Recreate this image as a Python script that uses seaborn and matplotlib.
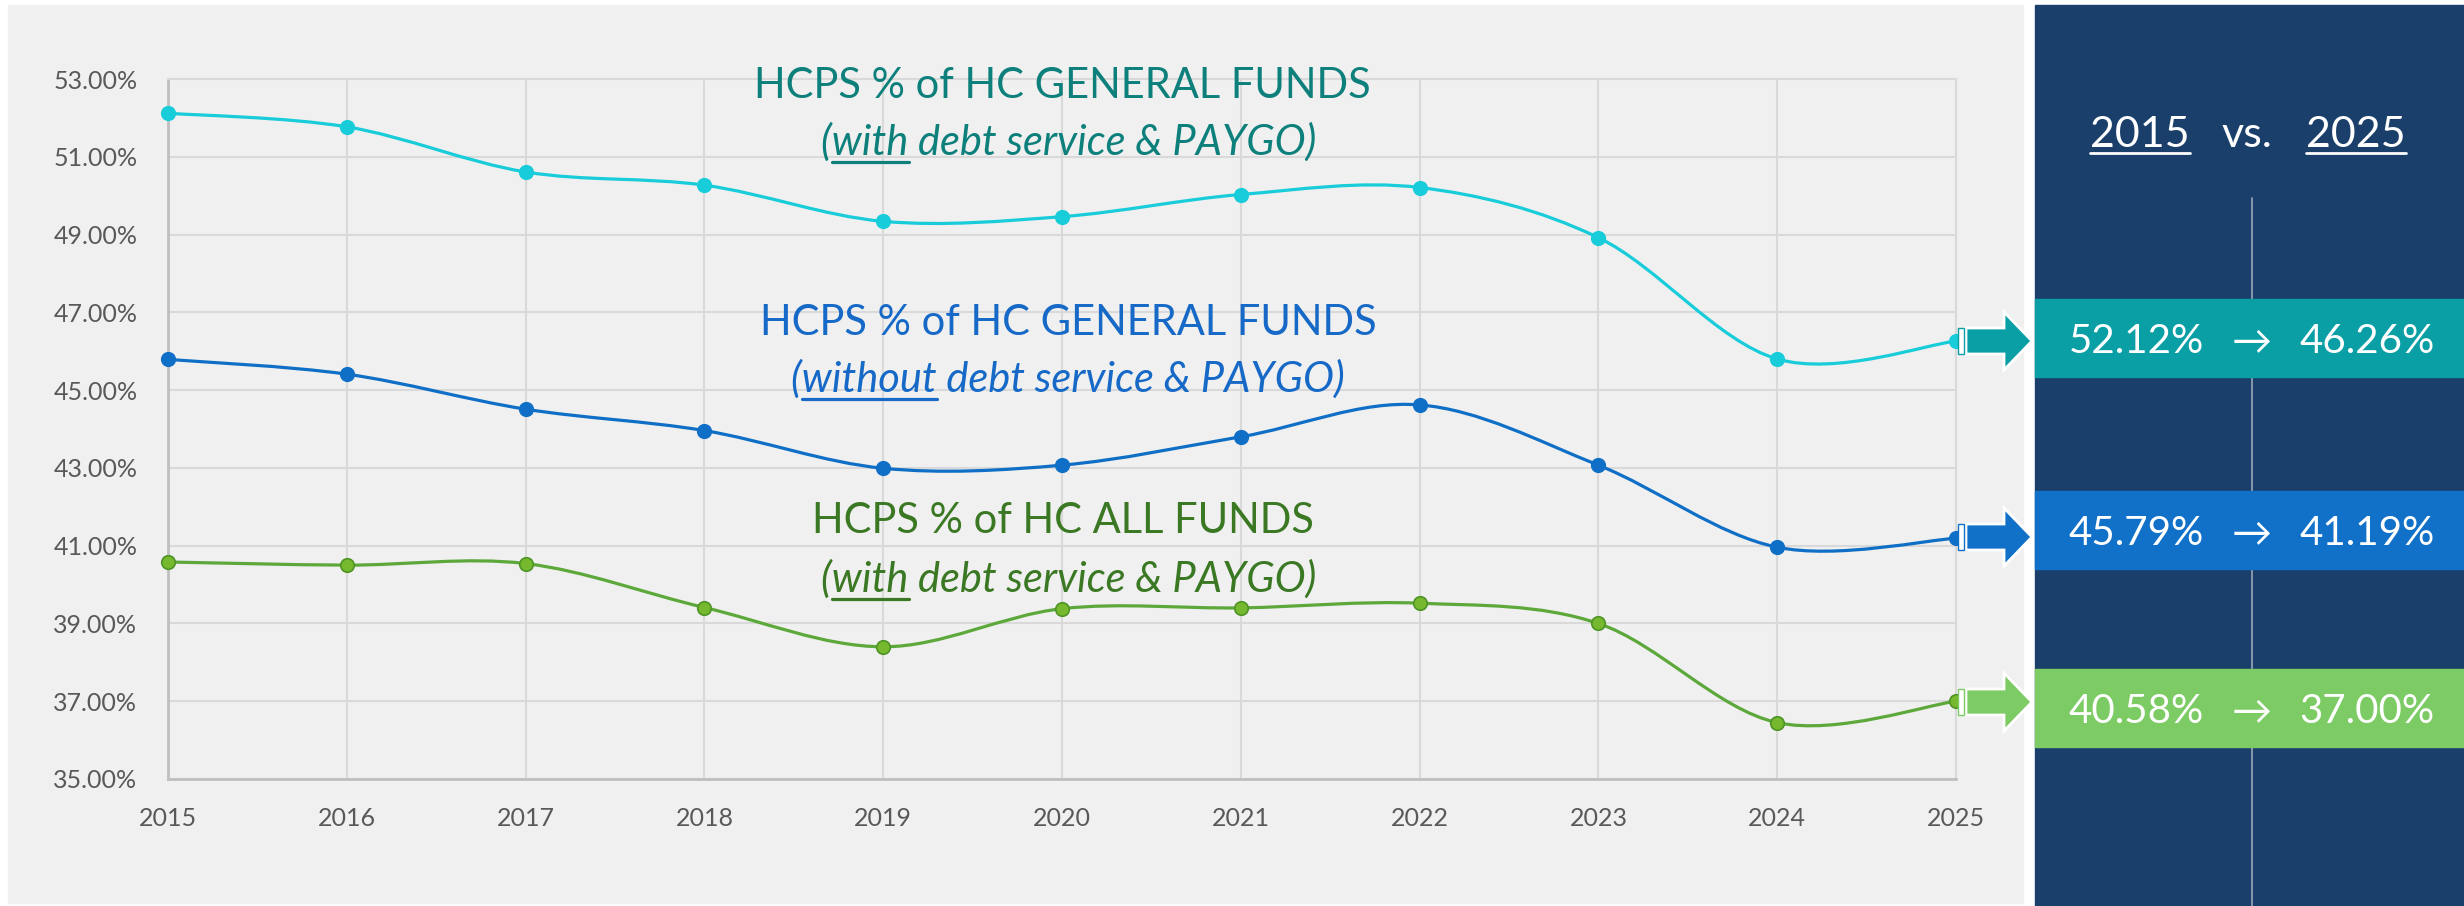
import numpy as np
import pandas as pd
import matplotlib
matplotlib.use("Agg")
import matplotlib.pyplot as plt
import seaborn as sns
from matplotlib.path import Path
from matplotlib.patches import PathPatch, Rectangle, Polygon
from matplotlib.lines import Line2D

# data (percent)
years = list(range(2015, 2026))
with_debt_general = [52.12, 51.77, 50.61, 50.27, 49.34, 49.46, 50.03, 50.21, 48.92, 45.80, 46.26]
without_debt_general = [45.79, 45.41, 44.51, 43.96, 42.99, 43.07, 43.80, 44.62, 43.07, 40.96, 41.19]
with_debt_all = [40.58, 40.50, 40.54, 39.41, 38.40, 39.38, 39.40, 39.52, 39.00, 36.45, 37.00]
y_ticks = [35, 37, 39, 41, 43, 45, 47, 49, 51, 53]

series_names = ["general_with", "general_without", "all_with"]
line_colors = ["#18CCD9", "#0F6FC6", "#5DA83A"]
marker_edges = ["#18CCD9", "#0F6FC6", "#4E9426"]
marker_faces = ["#18CCD9", "#0F6FC6", "#76B82E"]
box_colors = ["#0A9EA5", "#1170C8", "#7DCB64"]
text_colors = ["#0E807C", "#1669C6", "#3B7824"]

W, H = 2464, 906


def fx(x):
    return x / W


def fy(y):
    return 1 - y / H


def smooth_path(xs, ys):
    # excel style smoothed line (bezier through every point)
    pts = np.column_stack([xs, ys]).astype(float)
    n = len(pts)
    verts = [pts[0]]
    codes = [Path.MOVETO]
    for i in range(n - 1):
        p0 = pts[max(i - 1, 0)]
        p1 = pts[i]
        p2 = pts[i + 1]
        p3 = pts[min(i + 2, n - 1)]
        verts += [p1 + (p2 - p0) / 6, p2 - (p3 - p1) / 6, p2]
        codes += [Path.CURVE4] * 3
    return Path(verts, codes)


sns.set_theme(style="whitegrid")
plt.rcParams["font.family"] = ["Lato", "DejaVu Sans"]

fig = plt.figure(figsize=(W / 100, H / 100), dpi=100)
fig.patch.set_facecolor("white")

# gray chart panel and navy side panel
fig.add_artist(Rectangle((fx(8), fy(903)), fx(2023) - fx(8), fy(5) - fy(903),
                         transform=fig.transFigure, color="#F0F0F0", zorder=0))
fig.add_artist(Rectangle((fx(2035), 0), 1 - fx(2035), fy(5),
                         transform=fig.transFigure, color="#1A3F6B", zorder=0))

ax = fig.add_axes([fx(168), fy(779), fx(1956) - fx(168), fy(79) - fy(779)])
ax.set_facecolor("none")

df = pd.DataFrame({
    "year": years * 3,
    "value": with_debt_general + without_debt_general + with_debt_all,
    "series": np.repeat(series_names, len(years)),
})

for i, name in enumerate(series_names):
    sub = df[df["series"] == name]
    ax.add_patch(PathPatch(smooth_path(sub["year"], sub["value"]), fill=False,
                           edgecolor=line_colors[i], lw=2.3, zorder=3, clip_on=False))
    sns.scatterplot(data=sub, x="year", y="value", color=marker_faces[i],
                    edgecolor=marker_edges[i], linewidth=1.2, s=95, zorder=4,
                    clip_on=False, legend=False, ax=ax)

ax.set_xlim(2015, 2025)
ax.set_ylim(35, 53)
ax.set_xticks(years)
ax.set_xticklabels([str(y) for y in years])
ax.set_yticks(y_ticks)
ax.set_yticklabels([f"{v:.2f}%" for v in y_ticks])
ax.set_xlabel("")
ax.set_ylabel("")
ax.tick_params(axis="both", length=0, labelsize=18, labelcolor="#595959")
ax.tick_params(axis="y", pad=22)
ax.tick_params(axis="x", pad=20)
ax.grid(True, color="#D9D9D9", lw=1.5)
for side in ["top", "right"]:
    ax.spines[side].set_color("#D9D9D9")
    ax.spines[side].set_linewidth(1.5)
for side in ["left", "bottom"]:
    ax.spines[side].set_color("#BFBFBF")
    ax.spines[side].set_linewidth(2)

renderer = fig.canvas.get_renderer()


def text_width(s, **kw):
    t = fig.text(0, 0, s, **kw)
    w = t.get_window_extent(renderer).width
    t.remove()
    return w


def label_line(x, y, pre, word, post, color, size, style):
    kw = dict(fontsize=size, style=style, color=color)
    t = fig.text(fx(x), fy(y), pre + word + post, ha="center", va="baseline", **kw)
    bb = t.get_window_extent(renderer)
    if word:
        x0 = bb.x0 + text_width(pre, **kw) if pre else bb.x0
        x1 = bb.x0 + text_width(pre + word, **kw)
        fig.add_artist(Line2D([x0 / W, x1 / W], [fy(y + 7)] * 2, color=color, lw=2.3,
                              transform=fig.transFigure))


# series annotations
label_line(1062, 98, "HCPS % of HC GENERAL FUNDS", "", "", text_colors[0], 30, "normal")
label_line(1069, 155, "(", "with", " debt service & PAYGO)", text_colors[0], 30, "italic")
label_line(1068, 335, "HCPS % of HC GENERAL FUNDS", "", "", text_colors[1], 30, "normal")
label_line(1068, 392, "(", "without", " debt service & PAYGO)", text_colors[1], 30, "italic")
label_line(1063, 533, "HCPS % of HC ALL FUNDS", "", "", text_colors[2], 30, "normal")
label_line(1069, 592, "(", "with", " debt service & PAYGO)", text_colors[2], 30, "italic")

# right panel header
for xc, s, under in [(2140, str(years[0]), True), (2247, "vs.", False), (2356, str(years[-1]), True)]:
    t = fig.text(fx(xc), fy(147), s, ha="center", va="baseline", fontsize=31, color="white")
    if under:
        bb = t.get_window_extent(renderer)
        fig.add_artist(Line2D([bb.x0 / W, bb.x1 / W], [fy(153)] * 2, color="white", lw=2,
                              transform=fig.transFigure))

fig.add_artist(Line2D([fx(2252)] * 2, [fy(198), 0], color="#9AA8BA", lw=1.2,
                      transform=fig.transFigure, zorder=1))

box_centers = [338, 530, 708]
arrow_centers = [341, 537, 702]
series_values = [with_debt_general, without_debt_general, with_debt_all]
for i, vals in enumerate(series_values):
    yc = box_centers[i]
    fig.add_artist(Rectangle((fx(2035), fy(yc + 39)), 1 - fx(2035), fy(yc - 39) - fy(yc + 39),
                             transform=fig.transFigure, color=box_colors[i], zorder=2))
    base = yc + 15
    fig.text(fx(2136), fy(base), f"{vals[0]:.2f}%", ha="center", va="baseline",
             fontsize=29, color="white", zorder=3)
    fig.text(fx(2252), fy(base), "\u2192", ha="center", va="baseline",
             fontsize=29, color="white", zorder=3)
    fig.text(fx(2367), fy(base), f"{vals[-1]:.2f}%", ha="center", va="baseline",
             fontsize=29, color="white", zorder=3)

    # block arrow pointing from the last point into the box
    ya = arrow_centers[i]
    pts = [(1966, ya - 13), (2004, ya - 13), (2004, ya - 29), (2032, ya),
           (2004, ya + 29), (2004, ya + 13), (1966, ya + 13)]
    fig.add_artist(Polygon([(fx(px), fy(py)) for px, py in pts], closed=True,
                           transform=fig.transFigure, facecolor=box_colors[i],
                           edgecolor="white", lw=2, zorder=2))
    fig.add_artist(Rectangle((fx(1958), fy(ya + 13)), fx(1964) - fx(1958), fy(ya - 13) - fy(ya + 13),
                             transform=fig.transFigure, facecolor="white",
                             edgecolor=box_colors[i], lw=1, zorder=2))

fig.savefig("out.png", dpi=100)
